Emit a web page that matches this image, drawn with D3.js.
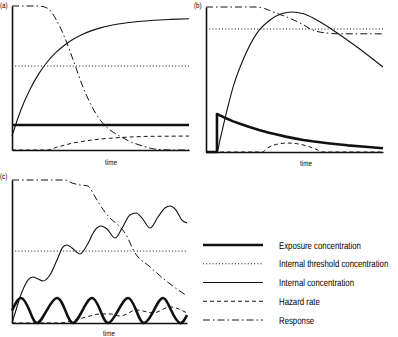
<!DOCTYPE html>
<html><head><meta charset="utf-8">
<script src="https://cdn.jsdelivr.net/npm/d3@7"></script>
<style>
html,body{margin:0;padding:0;background:#fff;}
svg{display:block;}
text{font-family:'Liberation Sans',Arial,sans-serif;fill:#000;text-rendering:geometricPrecision;}
</style></head>
<body><svg id="c" width="398" height="337"></svg>
<script>
// ---------- DATA ----------
// Panel (a): constant exposure
const aTime      = [0,0.5,1,1.5,2,2.5,3,3.5,4,4.5,5,5.5,6,6.5,7,7.5,8,9,10];
const aExposure  = [17.4,17.4,17.4,17.4,17.4,17.4,17.4,17.4,17.4,17.4,17.4,17.4,17.4,17.4,17.4,17.4,17.4,17.4,17.4];
const aInternal  = [9.7,27.8,41.7,52.7,61.3,67.9,73.1,77.2,80.4,82.9,84.8,86.3,87.5,88.4,89.1,89.6,90.1,90.7,91.1];
const aHazard    = [0,0,0,0,0,1.8,3.5,5,6,6.9,7.6,8.1,8.6,8.9,9.2,9.4,9.5,9.6,9.7];
const aResponse  = [100,100,100,100,98.5,90.5,77.5,61,44,30.5,20.5,14.3,10.3,6.9,4.3,2.4,0.8,0,0];
const aThreshold = 58.3;

// Panel (b): pulse exposure
const bExposureT = [0,0.62,0.62,1,1.5,2,2.5,3,3.5,4,4.5,5,5.5,6,7,8,9,10];
const bExposureV = [0,0,26.2,24,21.3,19.1,17,15.1,13.5,12,10.6,9.4,8.3,7.4,5.9,4.6,3.6,2.6];
const bInternalT = [0,0.62,0.79,1.19,1.53,2.09,2.88,3.62,4.3,4.86,5.5,6.05,7.18,8.53,10];
const bInternalV = [0,0,8.3,29,44.8,63.4,82,91,95.5,96.6,95.3,92.4,84,72.4,58.6];
const bHazardT   = [0,3.16,3.5,4,4.6,5.2,5.8,6.3,6.6,10];
const bHazardV   = [0,0,3,5.3,6.2,5.6,3.8,1.5,0,0];
const bResponseT = [0,2.9,3.3,3.79,4.58,5.31,6.05,6.84,7.5,10];
const bResponseV = [100,100,99,96.6,93,89,84,82,81.5,81.5];
const bThreshold = 84.8;

// Panel (c): pulsed (periodic) exposure
const cExposureT = [0,0.51,1.0,1.43,1.98,2.57,3.05,3.49,4.02,4.57,5.05,5.49,6.06,6.63,7.1,7.54,8.1,8.63,9.1,9.6,10];
const cExposureV = [8.7,17.5,8.7,0,8.7,17.5,8.7,0,8.7,17.5,8.7,0,8.7,17.5,8.7,0,8.7,17.5,8.7,0,5.5];
const cInternalT = [0,0.23,0.46,0.69,0.91,1.2,1.49,1.77,2.17,2.57,2.91,3.14,3.43,3.89,4.29,4.74,5.09,5.43,5.89,6.29,6.74,7.09,7.43,7.89,8.34,8.74,9.03,9.37,9.71,10];
const cInternalV = [0,9.1,18.2,25.2,30,32.2,30.8,29.4,33.6,44,53,54.5,52.4,48.3,54.5,65,67.8,65.7,59.4,66.4,75.5,76.9,73.4,66.4,74.1,80.4,81.8,79,72,70];
const cHazardT   = [0,2.74,3.6,4.46,5.03,5.6,6.17,7.14,8.06,9.03,10];
const cHazardV   = [0,0,2.1,4.9,6.3,6.3,4.9,9.1,7,11.2,7];
const cResponseT = [0,3.03,3.43,3.89,4.34,4.69,5.03,5.6,6.06,6.46,7.03,7.89,8.74,10];
const cResponseV = [100,100,97.9,96.5,95.8,89.5,82.5,73.4,68.5,62.9,49,39.2,30.1,18.9];
const cThreshold = 50.3;

const panelLabels = ["(a)","(b)","(c)"];
const axisTitle = "time";
const legendLabels = ["Exposure concentration","Internal threshold concentration","Internal concentration","Hazard rate","Response"];

// ---------- STYLES / LAYOUT ----------
const styles = {
  exposure:  {w:2.6, dash:null},
  threshold: {w:1,   dash:"1,2.2"},
  internal:  {w:1.1, dash:null},
  hazard:    {w:1,   dash:"4,3"},
  response:  {w:1,   dash:"7,3,1.5,3"}
};
const legendKeys = ["exposure","threshold","internal","hazard","response"];
const narrow = 0.78; // horizontal squeeze to mimic the reference's condensed face

const svg = d3.select("#c");

function squeezedText(parent, x, y, size, txt, anchor){
  return parent.append("g")
    .attr("transform",`translate(${x},${y}) scale(${narrow},1)`)
    .append("text").attr("font-size",size).attr("text-anchor",anchor||"start").text(txt);
}

function panel(box, label, series, labelPos, timePos){
  const x = d3.scaleLinear().domain([0,10]).range([box.x0, box.x1]);
  const y = d3.scaleLinear().domain([0,100]).range([box.y0, box.y1]);
  const g = svg.append("g");
  series.forEach(s=>{
    const st = styles[s.key];
    const pts = s.t.map((t,i)=>[t, s.v[i]]);
    const line = d3.line().x(d=>x(d[0])).y(d=>y(d[1])).curve(s.curve || d3.curveMonotoneX);
    g.append("path").attr("d", line(pts)).attr("fill","none").attr("stroke","#111")
      .attr("stroke-width", st.w).attr("stroke-dasharray", st.dash)
      .attr("stroke-linejoin","round");
  });
  g.append("g").attr("transform",`translate(${box.x0},0)`)
    .call(d3.axisLeft(y).ticks(0).tickSizeOuter(0))
    .select(".domain").attr("stroke","#111").attr("stroke-width",1.6);
  g.append("g").attr("transform",`translate(0,${box.y0})`)
    .call(d3.axisBottom(x).ticks(0).tickSizeOuter(0))
    .select(".domain").attr("stroke","#111").attr("stroke-width",1.6);
  squeezedText(g, labelPos[0], labelPos[1], 8, label);
  squeezedText(g, timePos[0], timePos[1], 8, axisTitle, "middle");
}

panel({x0:12,x1:189,y0:150,y1:6}, panelLabels[0], [
  {key:"threshold", t:[0,10], v:[aThreshold,aThreshold], curve:d3.curveLinear},
  {key:"hazard", t:aTime, v:aHazard},
  {key:"response", t:aTime, v:aResponse},
  {key:"internal", t:aTime, v:aInternal},
  {key:"exposure", t:aTime, v:aExposure, curve:d3.curveLinear}
], [0,8], [111,165]);

panel({x0:206,x1:383,y0:152,y1:7}, panelLabels[1], [
  {key:"threshold", t:[0,10], v:[bThreshold,bThreshold], curve:d3.curveLinear},
  {key:"hazard", t:bHazardT, v:bHazardV},
  {key:"response", t:bResponseT, v:bResponseV},
  {key:"internal", t:bInternalT, v:bInternalV},
  {key:"exposure", t:bExposureT, v:bExposureV, curve:d3.curveLinear}
], [194,8], [306,166]);

panel({x0:12,x1:187,y0:323,y1:180}, panelLabels[2], [
  {key:"threshold", t:[0,10], v:[cThreshold,cThreshold], curve:d3.curveLinear},
  {key:"hazard", t:cHazardT, v:cHazardV},
  {key:"response", t:cResponseT, v:cResponseV},
  {key:"internal", t:cInternalT, v:cInternalV},
  {key:"exposure", t:cExposureT, v:cExposureV, curve:d3.curveNatural}
], [0,179], [109,336]);

// ---------- LEGEND ----------
const legY = d3.scalePoint().domain(legendLabels).range([245,320]);
const leg = svg.append("g");
legendLabels.forEach((lab,i)=>{
  const st = styles[legendKeys[i]];
  leg.append("line").attr("x1",203).attr("x2",263).attr("y1",legY(lab)).attr("y2",legY(lab))
    .attr("stroke","#111").attr("stroke-width",st.w).attr("stroke-dasharray",st.dash);
  squeezedText(leg, 279, legY(lab)+3.5, 10, lab);
});
</script></body></html>
